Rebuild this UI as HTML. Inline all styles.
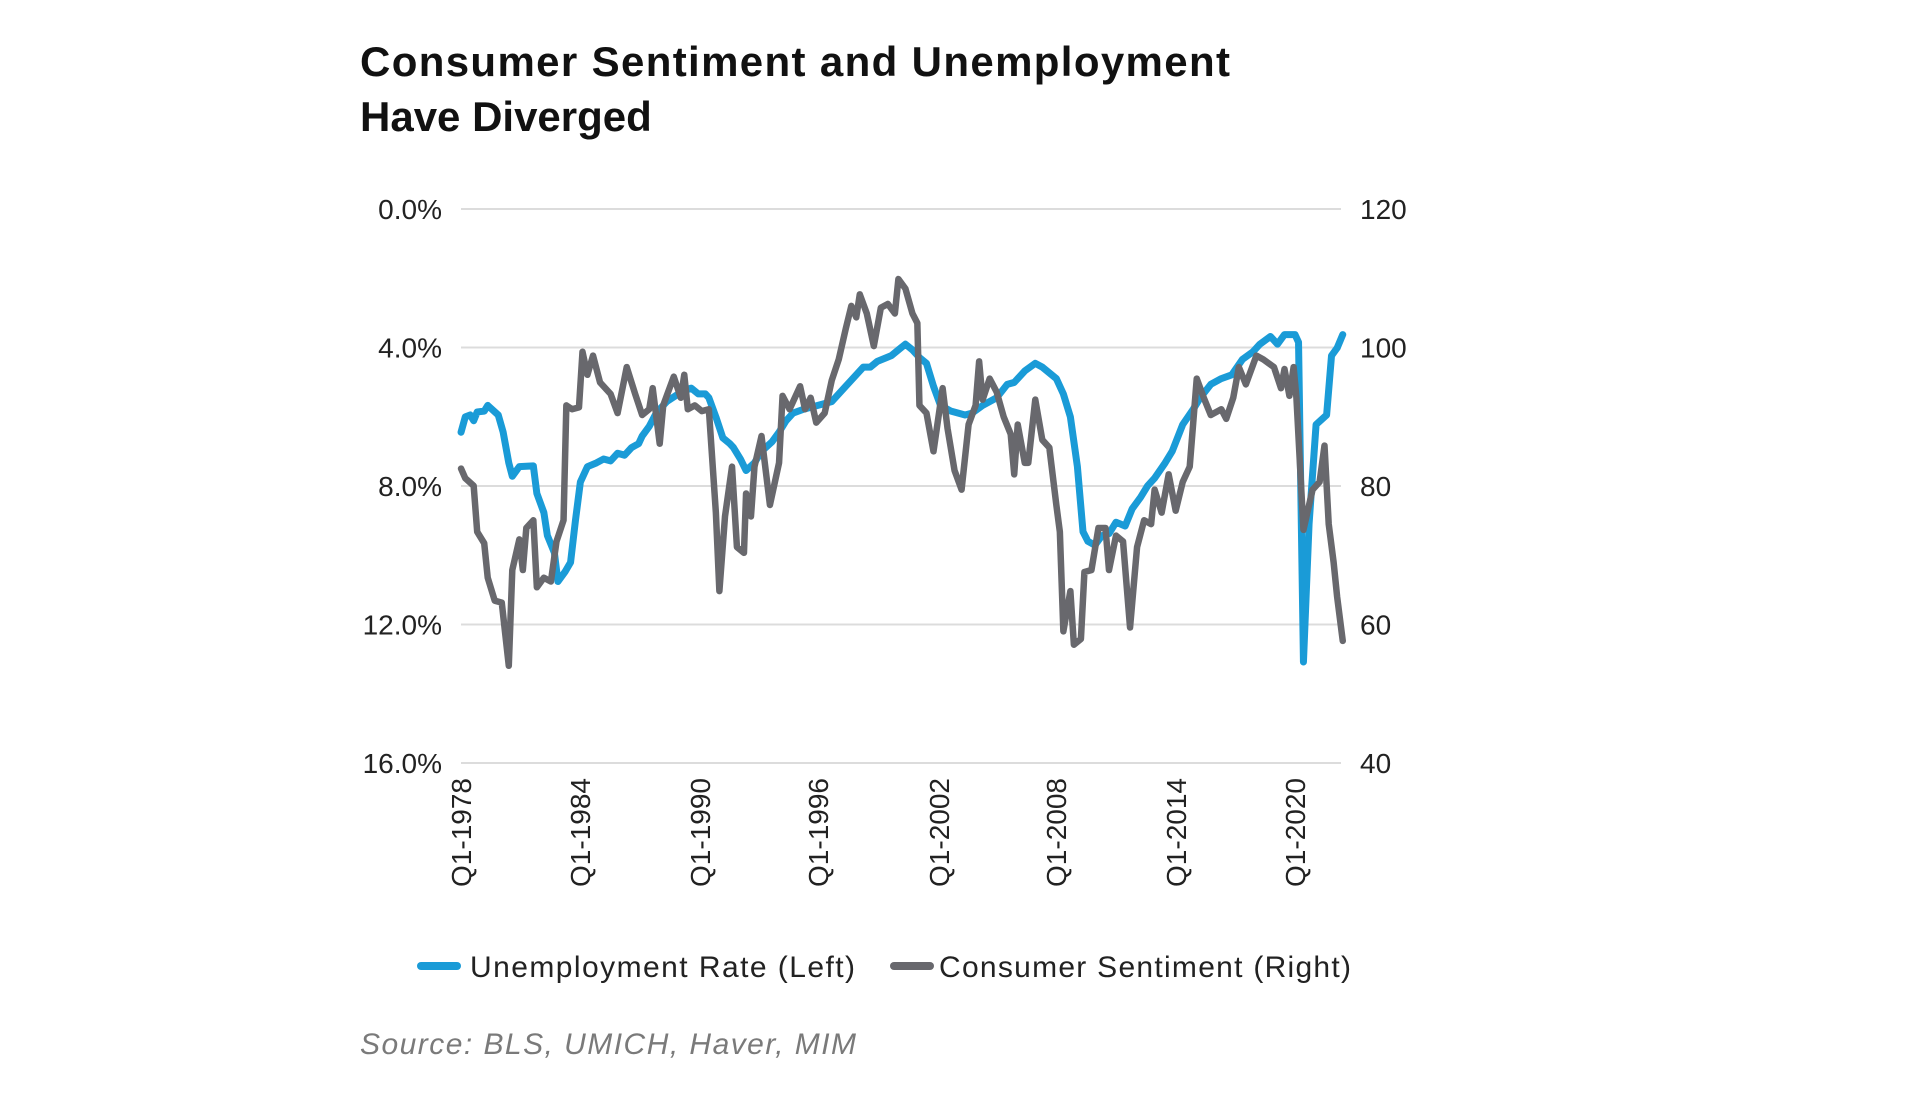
<!DOCTYPE html>
<html><head><meta charset="utf-8"><style>
body{margin:0;background:#fff;}
svg{display:block;font-family:"Liberation Sans",sans-serif;}
</style></head><body>
<svg width="1913" height="1106" viewBox="0 0 1913 1106" xmlns="http://www.w3.org/2000/svg">
<rect width="1913" height="1106" fill="#fff"/>
<text x="360" y="76" font-size="42" font-weight="bold" fill="#111" textLength="870">Consumer Sentiment and Unemployment</text>
<text x="360" y="131" font-size="42" font-weight="bold" fill="#111">Have Diverged</text>
<g stroke="#dcdcdc" stroke-width="2">
<line x1="461" y1="209" x2="1341" y2="209"/><line x1="461" y1="347.5" x2="1341" y2="347.5"/>
<line x1="461" y1="486" x2="1341" y2="486"/><line x1="461" y1="624.5" x2="1341" y2="624.5"/>
<line x1="461" y1="763" x2="1341" y2="763"/></g>
<g font-size="28" fill="#222" text-anchor="end">
<text x="442" y="219">0.0%</text><text x="442" y="357.5">4.0%</text><text x="442" y="496">8.0%</text><text x="442" y="634.5">12.0%</text><text x="442" y="773">16.0%</text></g>
<g font-size="28" fill="#222">
<text x="1360" y="219">120</text><text x="1360" y="357.5">100</text><text x="1360" y="496">80</text><text x="1360" y="634.5">60</text><text x="1360" y="773">40</text></g>
<g font-size="28" fill="#222" text-anchor="end">
<text transform="translate(471,778) rotate(-90)">Q1-1978</text>
<text transform="translate(590,778) rotate(-90)">Q1-1984</text>
<text transform="translate(710,778) rotate(-90)">Q1-1990</text>
<text transform="translate(828,778) rotate(-90)">Q1-1996</text>
<text transform="translate(949,778) rotate(-90)">Q1-2002</text>
<text transform="translate(1066,778) rotate(-90)">Q1-2008</text>
<text transform="translate(1186,778) rotate(-90)">Q1-2014</text>
<text transform="translate(1305,778) rotate(-90)">Q1-2020</text>
</g>
<g transform="translate(340.3,179.5) scale(0.702,0.3829)" fill="none" stroke-linejoin="round" stroke-linecap="round">
<polyline vector-effect="non-scaling-stroke" stroke="#1a9bd7" stroke-width="7" points="172,660 178,620 185,615 190,630 195,607 205,605 210,590 225,615 232,660 240,740 245,775 255,750 275,748 280,820 290,870 295,930 305,975 310,1050 320,1025 328,1000 335,890 342,790 352,750 365,740 375,730 385,735 395,715 405,720 415,700 425,690 430,670 440,645 450,610 465,580 490,550 500,545 510,560 520,560 525,570 535,620 545,675 555,690 560,700 570,730 578,760 590,740 600,710 615,685 625,660 635,630 645,610 660,600 700,580 720,540 745,490 755,490 765,475 785,460 795,445 805,430 815,445 825,465 835,480 845,540 855,590 870,605 890,615 900,610 915,590 935,570 950,535 960,530 975,500 990,480 1000,490 1010,505 1020,520 1030,560 1040,620 1050,750 1058,920 1065,945 1075,955 1085,930 1095,925 1105,895 1118,905 1128,860 1140,830 1150,800 1160,780 1175,740 1185,710 1200,640 1215,600 1225,570 1240,535 1255,520 1270,510 1285,470 1300,450 1310,430 1325,410 1335,430 1345,405 1360,405 1365,425 1372,1260 1380,900 1390,640 1405,615 1412,460 1420,440 1428,405"/>
<polyline vector-effect="non-scaling-stroke" stroke="#68686d" stroke-width="6.5" points="172,755 178,780 190,800 195,920 205,950 210,1040 220,1100 230,1105 240,1270 245,1020 255,940 260,1020 265,910 275,890 280,1065 290,1040 300,1050 308,945 318,890 322,590 330,600 340,595 345,450 352,510 360,460 370,530 385,560 395,610 408,490 420,560 430,615 440,600 445,545 455,690 460,590 475,515 485,570 490,510 495,600 505,590 515,605 525,600 535,870 540,1075 548,880 558,750 565,960 575,975 578,820 585,880 590,750 600,670 612,850 625,740 630,565 640,600 655,540 662,600 670,570 678,635 690,610 700,525 710,470 720,390 728,330 735,360 740,300 750,350 760,435 770,335 780,325 790,350 795,260 805,285 815,350 822,375 825,590 835,610 845,710 858,545 865,650 875,760 885,810 895,640 905,590 910,475 915,575 925,520 935,555 945,620 955,665 960,770 965,640 975,740 980,740 990,575 1000,680 1010,700 1020,850 1025,920 1030,1180 1040,1075 1045,1215 1055,1200 1060,1025 1070,1020 1080,910 1090,910 1095,1020 1105,930 1115,945 1125,1170 1135,960 1145,890 1155,900 1160,810 1170,870 1180,770 1190,865 1200,790 1210,750 1220,520 1230,570 1240,615 1255,600 1262,625 1272,570 1280,490 1290,535 1305,460 1315,470 1330,490 1340,545 1345,495 1352,565 1358,490 1362,570 1372,915 1385,810 1395,790 1402,695 1408,900 1415,1000 1420,1090 1428,1205"/>
</g>
<line x1="421" y1="966" x2="457" y2="966" stroke="#1a9bd7" stroke-width="8" stroke-linecap="round"/>
<text x="470" y="977" font-size="30" fill="#222" textLength="385">Unemployment Rate (Left)</text>
<line x1="894" y1="966" x2="930" y2="966" stroke="#68686d" stroke-width="8" stroke-linecap="round"/>
<text x="939" y="977" font-size="30" fill="#222" textLength="412">Consumer Sentiment (Right)</text>
<text x="360" y="1054" font-size="30" font-style="italic" fill="#7a7a7a" textLength="496">Source: BLS, UMICH, Haver, MIM</text>
</svg>
</body></html>
